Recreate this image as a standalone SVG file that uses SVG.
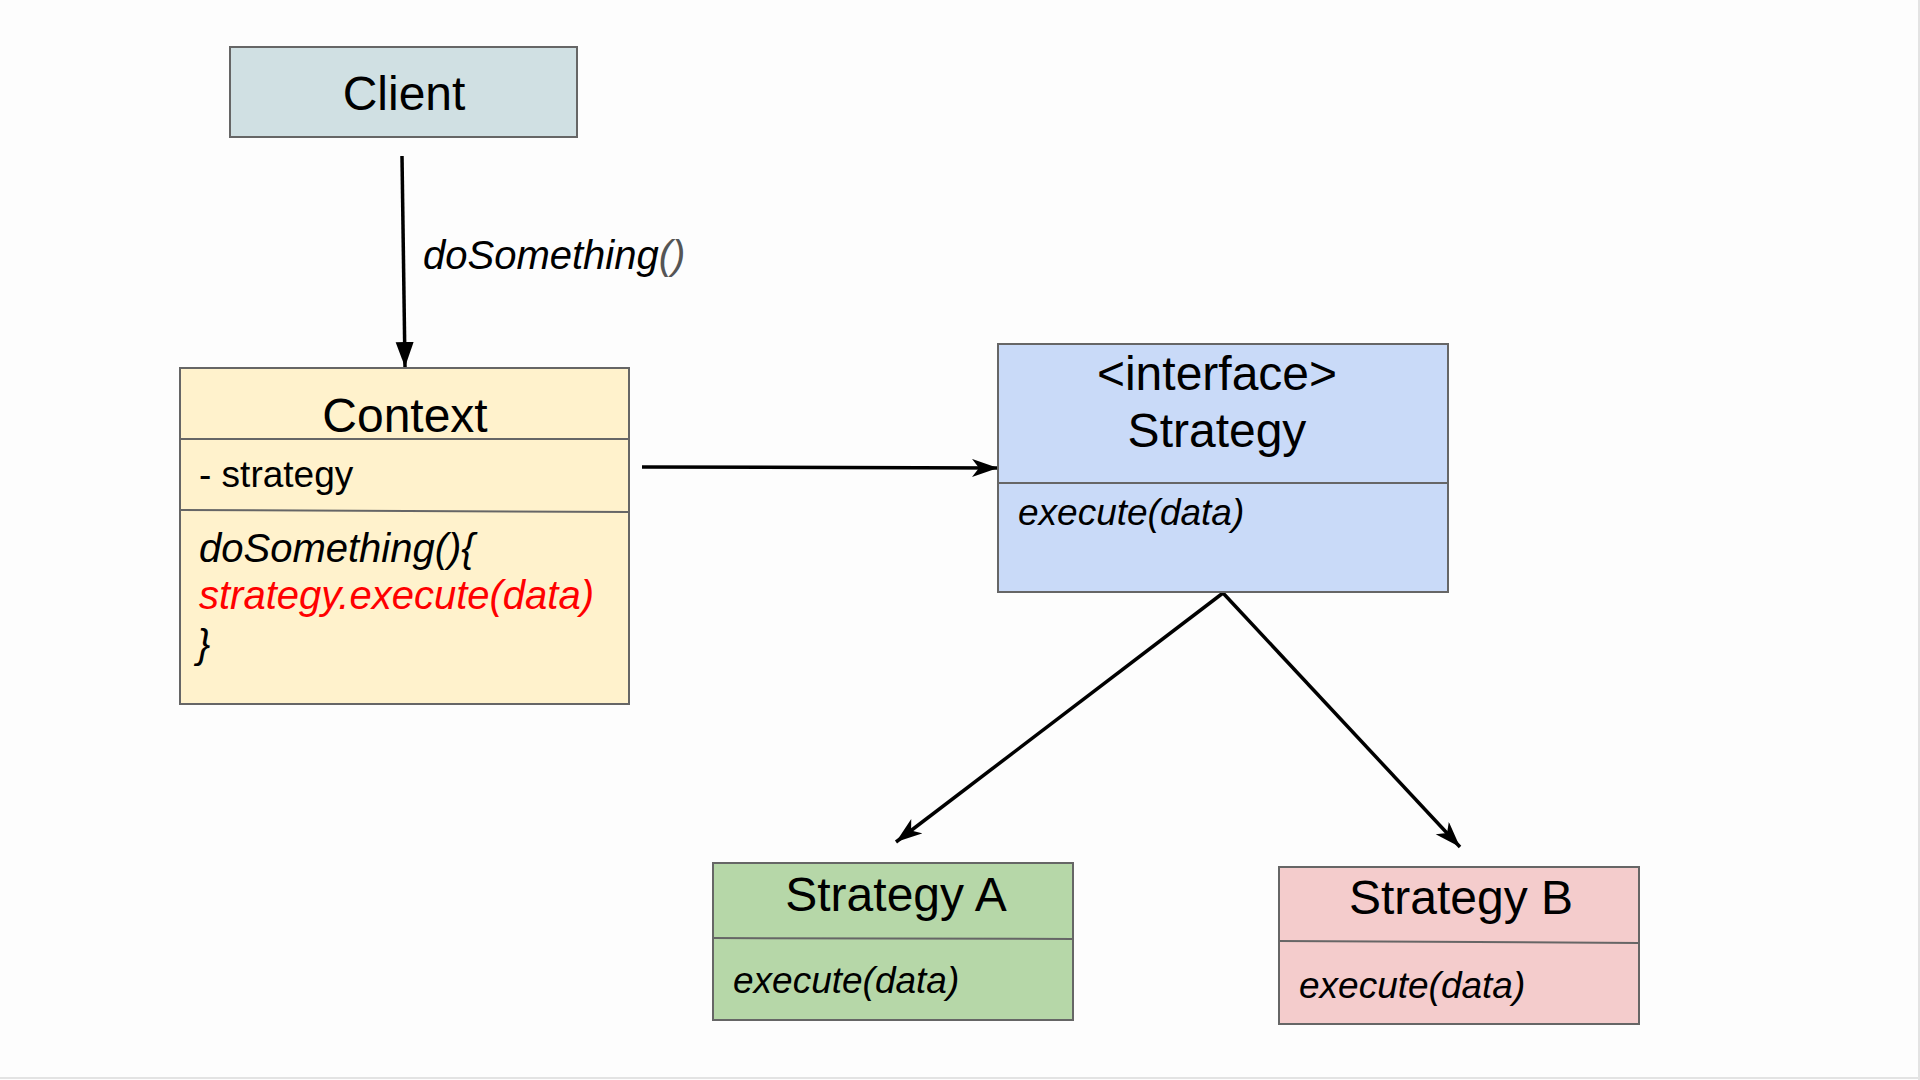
<svg xmlns="http://www.w3.org/2000/svg" width="1920" height="1080" viewBox="0 0 1920 1080">
  <style>
    .box { stroke: #666666; stroke-width: 2; }
    .div { stroke: #666666; stroke-width: 2; fill: none; }
    .title { font-family: "Liberation Sans", Arial, sans-serif; font-size: 48px; fill: #000; text-anchor: middle; }
    .attr { font-family: "Liberation Sans", Arial, sans-serif; font-size: 37px; fill: #000; }
    .op { font-family: "Liberation Sans", Arial, sans-serif; font-size: 40px; font-style: italic; fill: #000; }
    .meth { font-family: "Liberation Sans", Arial, sans-serif; font-size: 37px; font-style: italic; fill: #000; }
    .red { fill: #ff0000; }
    .conn { stroke: #000; stroke-width: 3.5; fill: none; }
  </style>
  <defs>
    <marker id="tri" markerUnits="userSpaceOnUse" markerWidth="26" markerHeight="20" refX="25" refY="9" orient="auto">
      <path d="M0,0 L25,9 L0,18 z" fill="#000"/>
    </marker>
    <marker id="notch" markerUnits="userSpaceOnUse" markerWidth="28" markerHeight="20" refX="26" refY="9" orient="auto">
      <path d="M0,0 L26,9 L0,18 L7,9 z" fill="#000"/>
    </marker>
  </defs>
  <rect x="0" y="0" width="1920" height="1080" fill="#fdfdfd"/>
  <line x1="1919" y1="0" x2="1919" y2="1080" stroke="#e3e3e3" stroke-width="2"/>
  <line x1="0" y1="1078" x2="1920" y2="1078" stroke="#e3e3e3" stroke-width="2"/>

  <g id="connectors">
    <line class="conn" x1="402" y1="156" x2="405" y2="367" marker-end="url(#tri)"/>
    <text class="op" x="423" y="269">doSomething<tspan fill="#555555">()</tspan></text>
    <line class="conn" x1="642" y1="467" x2="998" y2="468" marker-end="url(#notch)"/>
    <line class="conn" x1="1223" y1="593" x2="896" y2="842" marker-end="url(#notch)"/>
    <line class="conn" x1="1223" y1="593" x2="1460" y2="847" marker-end="url(#notch)"/>
  </g>

  <g id="client">
    <rect class="box" x="230" y="47" width="347" height="90" fill="#d0e0e3"/>
    <text class="title" x="404" y="110">Client</text>
  </g>

  <g id="context">
    <rect class="box" x="180" y="368" width="449" height="336" fill="#fff2cc"/>
    <line class="div" x1="180" y1="439" x2="629" y2="439"/>
    <line class="div" x1="180" y1="510" x2="629" y2="512"/>
    <text class="title" x="405" y="432">Context</text>
    <text class="attr" x="199" y="487">- strategy</text>
    <text class="op" x="199" y="562">doSomething(){</text>
    <text class="op red" x="199" y="609">strategy.execute(data)</text>
    <text class="op" x="197" y="658">}</text>
  </g>

  <g id="strategy">
    <rect class="box" x="998" y="344" width="450" height="248" fill="#c9daf8"/>
    <line class="div" x1="998" y1="483" x2="1448" y2="483"/>
    <text class="title" x="1217" y="390">&lt;interface&gt;</text>
    <text class="title" x="1217" y="447">Strategy</text>
    <text class="meth" x="1018" y="525">execute(data)</text>
  </g>

  <g id="strategy-a">
    <rect class="box" x="713" y="863" width="360" height="157" fill="#b6d7a8"/>
    <line class="div" x1="713" y1="938" x2="1073" y2="939"/>
    <text class="title" x="896" y="911">Strategy A</text>
    <text class="meth" x="733" y="993">execute(data)</text>
  </g>

  <g id="strategy-b">
    <rect class="box" x="1279" y="867" width="360" height="157" fill="#f4cccc"/>
    <line class="div" x1="1279" y1="941" x2="1639" y2="943"/>
    <text class="title" x="1461" y="914">Strategy B</text>
    <text class="meth" x="1299" y="998">execute(data)</text>
  </g>
</svg>
